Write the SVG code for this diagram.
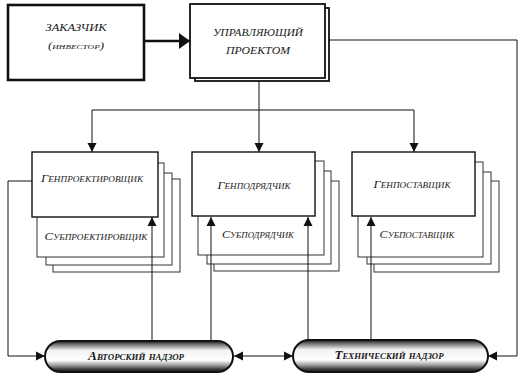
<svg xmlns="http://www.w3.org/2000/svg" width="521" height="382" viewBox="0 0 521 382">
<style>
.t{font-family:"Liberation Serif","DejaVu Serif",serif;font-style:italic;fill:#1a1a1a;text-anchor:middle}
.sc{font-variant:small-caps;font-size:11px}
.hd{font-size:10.5px}
.pl{font-variant:small-caps;font-size:12px;font-weight:bold}
.main{fill:#fff;stroke:#111;stroke-width:1.4}
.stk{fill:#fff;stroke:#333;stroke-width:1}
.ln{fill:none;stroke:#111;stroke-width:1}
.pill{fill:url(#pg);stroke:#111;stroke-width:2}
</style>
<defs>
<marker id="ah" markerUnits="userSpaceOnUse" markerWidth="10" markerHeight="10" refX="9" refY="5" orient="auto-start-reverse"><path d="M0,0.5 L9,5 L0,9.5 z" fill="#111"/></marker>
<marker id="ahb" markerUnits="userSpaceOnUse" markerWidth="12" markerHeight="16" refX="11" refY="8" orient="auto"><path d="M0,0 L11,8 L0,16 z" fill="#111"/></marker>
<linearGradient id="pg" x1="0" y1="0" x2="0" y2="1">
<stop offset="0" stop-color="#1a1a1a"/>
<stop offset="0.12" stop-color="#777"/>
<stop offset="0.3" stop-color="#f2f2f2"/>
<stop offset="0.62" stop-color="#fff"/>
<stop offset="0.78" stop-color="#a0a0a0"/>
<stop offset="0.9" stop-color="#444"/>
<stop offset="1" stop-color="#111"/>
</linearGradient>
</defs>

<g id="zakazchik">
<rect x="8" y="5" width="136" height="75" fill="#fff" stroke="#111" stroke-width="2.6"/>
<text class="t hd" x="76" y="31" textLength="61" lengthAdjust="spacingAndGlyphs">ЗАКАЗЧИК</text>
<text class="t sc" x="76" y="49" textLength="56" lengthAdjust="spacingAndGlyphs" style="font-size:10px">(инвестор)</text>
</g>

<g id="upravlyayushchiy">
<rect x="195" y="8" width="134" height="73" fill="#fff" stroke="#111" stroke-width="1.8"/>
<rect x="190" y="4" width="135" height="74" fill="#fff" stroke="#111" stroke-width="1.8"/>
<text class="t hd" x="258" y="36" textLength="90" lengthAdjust="spacingAndGlyphs">УПРАВЛЯЮЩИЙ</text>
<text class="t hd" x="258" y="54" textLength="64" lengthAdjust="spacingAndGlyphs">ПРОЕКТОМ</text>
</g>

<g id="genproektirovshchik">
<rect class="stk" x="53" y="179" width="127" height="93"/>
<rect class="stk" x="46" y="173" width="126" height="92"/>
<rect class="stk" x="37" y="163" width="127" height="94"/>
<rect class="main" x="32" y="152" width="126" height="65"/>
<text class="t sc" x="92" y="182" textLength="102" lengthAdjust="spacingAndGlyphs">Генпроектировщик</text>
<text class="t sc" x="96" y="240" textLength="103" lengthAdjust="spacingAndGlyphs">Субпроектировщик</text>
</g>

<g id="genpodryadchik">
<rect class="stk" x="214" y="181" width="125" height="90"/>
<rect class="stk" x="207" y="171" width="124" height="93"/>
<rect class="stk" x="198" y="161" width="126" height="94"/>
<rect class="main" x="192" y="152" width="123" height="64"/>
<text class="t sc" x="254" y="189" textLength="73" lengthAdjust="spacingAndGlyphs">Генподрядчик</text>
<text class="t sc" x="258" y="238" textLength="72" lengthAdjust="spacingAndGlyphs">Субподрядчик</text>
</g>

<g id="genpostavshchik">
<rect class="stk" x="374" y="181" width="125" height="91"/>
<rect class="stk" x="367" y="172" width="124" height="92"/>
<rect class="stk" x="358" y="162" width="125" height="95"/>
<rect class="main" x="352" y="152" width="123" height="64"/>
<text class="t sc" x="412" y="188" textLength="77" lengthAdjust="spacingAndGlyphs">Генпоставщик</text>
<text class="t sc" x="417" y="238" textLength="75" lengthAdjust="spacingAndGlyphs">Субпоставщик</text>
</g>

<g id="avtorskiy-nadzor">
<rect class="pill" x="45" y="341" width="188" height="31" rx="15.5"/>
<text class="t pl" x="136" y="360" textLength="96" lengthAdjust="spacingAndGlyphs">Авторский надзор</text>
</g>

<g id="tekhnicheskiy-nadzor">
<rect class="pill" x="293" y="340" width="195" height="32" rx="16"/>
<text class="t pl" x="389" y="359" textLength="109" lengthAdjust="spacingAndGlyphs">Технический надзор</text>
</g>

<g id="connectors">
<path d="M144,41 H190" fill="none" stroke="#111" stroke-width="2.6" marker-end="url(#ahb)"/>
<path class="ln" d="M259,81 V110"/>
<path class="ln" d="M92,110 H414"/>
<path class="ln" d="M92,110 V152" marker-end="url(#ah)"/>
<path class="ln" d="M259,110 V152" marker-end="url(#ah)"/>
<path class="ln" d="M414,110 V152" marker-end="url(#ah)"/>
<path class="ln" d="M329,40 H517 V356 H488" marker-end="url(#ah)"/>
<path class="ln" d="M32,181 H8 V356 H45" marker-end="url(#ah)"/>
<path class="ln" d="M234,356 H293" marker-start="url(#ah)" marker-end="url(#ah)"/>
<path class="ln" d="M152,341 V217" marker-end="url(#ah)"/>
<path class="ln" d="M211,341 V217" marker-end="url(#ah)"/>
<path class="ln" d="M308,340 V217" marker-end="url(#ah)"/>
<path class="ln" d="M371,340 V217" marker-end="url(#ah)"/>
</g>
</svg>
